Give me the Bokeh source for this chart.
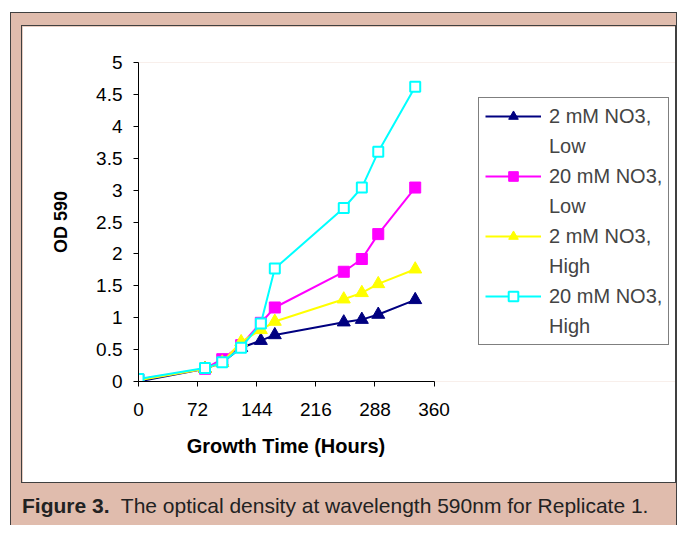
from bokeh.plotting import figure
from bokeh.models import Range1d, Legend, LegendItem, Div, Title
from bokeh.layouts import column
from bokeh.embed import file_html
from bokeh.resources import INLINE

# growth time (hours) and OD 590 readings
hours = [0, 81, 102, 125, 149, 166, 250, 272, 292, 337]
od_2mm_low = [0.0, 0.2, 0.3, 0.53, 0.64, 0.73, 0.93, 0.97, 1.05, 1.28]
od_20mm_low = [0.03, 0.2, 0.35, 0.57, 0.92, 1.16, 1.72, 1.92, 2.31, 3.04]
od_2mm_high = [0.02, 0.2, 0.3, 0.62, 0.81, 0.94, 1.29, 1.39, 1.53, 1.76]
od_20mm_high = [0.04, 0.21, 0.3, 0.53, 0.91, 1.77, 2.72, 3.04, 3.6, 4.62]

# legend labels, wrapped on two lines as in the original
labels = [("2 mM NO3,", "Low"), ("20 mM NO3,", "Low"),
          ("2 mM NO3,", "High"), ("20 mM NO3,", "High")]

x_ticks = [0, 72, 144, 216, 288, 360]
y_ticks = [0, 0.5, 1, 1.5, 2, 2.5, 3, 3.5, 4, 4.5, 5]
y_tick_labels = ["0", "0.5", "1", "1.5", "2", "2.5", "3", "3.5", "4", "4.5", "5"]

x_title = "Growth Time (Hours)"
y_title = "OD 590"
caption_bold = "Figure 3."
caption_text = "The optical density at wavelength 590nm for Replicate 1."

PINK = "#E0BCAD"
FONT = "Liberation Sans"

# the frame runs on under the legend; the x axis itself only covers 0..360 h
AXIS_PX = 294.5
FRAME_PX = 537
x_end = x_ticks[-1] * FRAME_PX / AXIS_PX

p = figure(width=655, height=458, x_range=Range1d(0, x_end), y_range=Range1d(0, 5),
           output_backend="svg", toolbar_location=None,
           min_border_left=116, min_border_right=0, min_border_top=36, min_border_bottom=103,
           background_fill_color="white", border_fill_color="white",
           styles={"border": "1px solid #404040"}, margin=(12, 0, 0, 10))
p.grid.visible = False
p.outline_line_color = None

p.xaxis.ticker = x_ticks
p.xaxis.bounds = (x_ticks[0], x_ticks[-1])
p.yaxis.ticker = y_ticks
p.yaxis.major_label_overrides = dict(zip(y_ticks, y_tick_labels))
p.axis.axis_line_color = "black"
p.axis.major_tick_line_color = "black"
p.axis.major_tick_in = 0
p.axis.major_tick_out = 5
p.axis.minor_tick_line_color = None
p.axis.major_label_text_font = FONT
p.axis.major_label_text_font_size = "19px"
p.axis.major_label_text_color = "black"
p.xaxis.major_label_standoff = 16
p.yaxis.major_label_standoff = 11
p.yaxis.axis_label = y_title
p.yaxis.axis_label_text_font = FONT
p.yaxis.axis_label_text_font_style = "bold"
p.yaxis.axis_label_text_font_size = "18px"
p.yaxis.axis_label_text_color = "black"
p.yaxis.axis_label_standoff = 22

# x title centred under the 0..360 axis, not under the whole frame
p.add_layout(Title(text=x_title, align="left", offset=AXIS_PX / 2 - 99,
                   standoff=28, text_font=FONT, text_font_style="bold",
                   text_font_size="20px", text_color="black"), "below")

styles = [
    (od_2mm_low, "#000080", "triangle", "#000080", 13),
    (od_20mm_low, "#FF00FF", "square", "#FF00FF", 11),
    (od_2mm_high, "#FFFF00", "triangle", "#FFFF00", 13),
    (od_20mm_high, "#00FFFF", "square", "white", 10),
]

items = []
for (first, second), (vals, color, marker, fill, size) in zip(labels, styles):
    ln = p.line(hours, vals, line_color=color, line_width=2)
    sc = p.scatter(hours, vals, marker=marker, size=size, line_color=color,
                   fill_color=fill, line_width=2 if fill == "white" else 1)
    items.append(LegendItem(label=first, renderers=[ln, sc]))
    items.append(LegendItem(label=second, renderers=[]))

legend = Legend(items=items, location=(340, 36), border_line_color="black",
                border_line_width=1, background_fill_color="white",
                background_fill_alpha=1, padding=6, spacing=6, margin=0,
                glyph_width=56, glyph_height=24, label_height=24, label_standoff=8,
                label_text_font=FONT, label_text_font_size="20px")
p.add_layout(legend)

cap = Div(text=f"<b>{caption_bold}</b>&nbsp; {caption_text}", width=654, height=42,
          margin=(0, 0, 0, 11),
          styles={"font-family": FONT, "font-size": "21px", "color": "#222222",
                  "padding-top": "10px", "line-height": "1.2", "white-space": "nowrap"})

page = column(p, cap, margin=(12, 0, 0, 10),
              styles={"background-color": PINK, "border": "1px solid #404040",
                      "border-bottom": "none"})

open("out.html", "w").write(file_html(page, INLINE))
